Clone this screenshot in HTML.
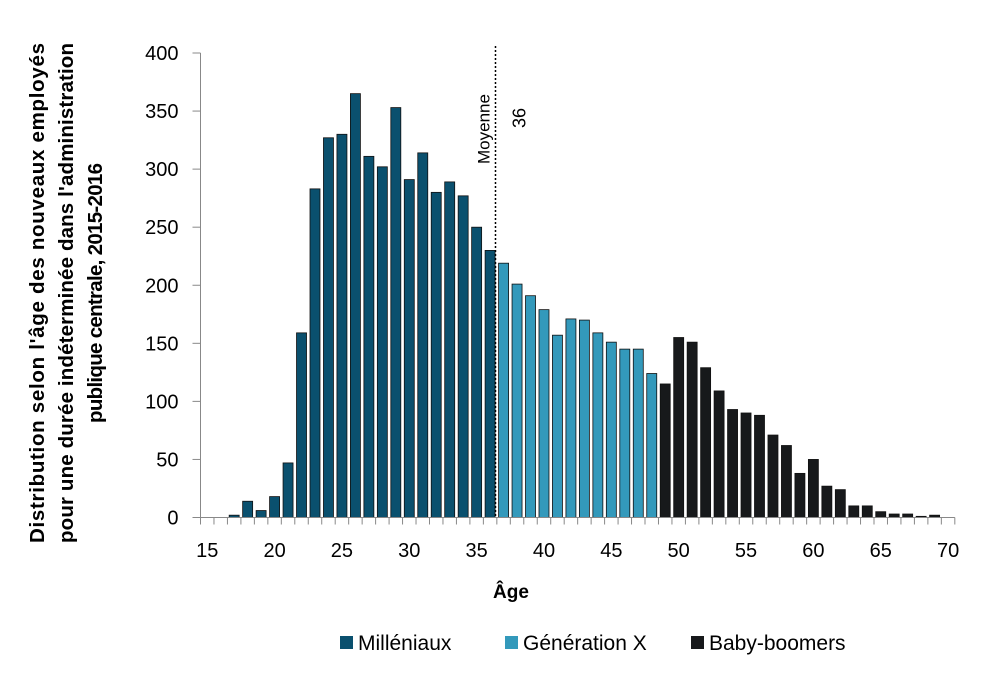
<!DOCTYPE html>
<html><head><meta charset="utf-8"><style>
body{margin:0;background:#fff;}
svg{font-family:"Liberation Sans",sans-serif;}
</style></head><body>
<svg id="chart" width="988" height="677">
<g id="bars"></g><g id="axes"></g>
</svg>
<script>
const ages=[15,16,17,18,19,20,21,22,23,24,25,26,27,28,29,30,31,32,33,34,35,36,37,38,39,40,41,42,43,44,45,46,47,48,49,50,51,52,53,54,55,56,57,58,59,60,61,62,63,64,65,66,67,68,69,70];
const counts=[0,0,2,14,6,18,47,159,283,327,330,365,311,302,353,291,314,280,289,277,250,230,219,201,191,179,157,171,170,159,151,145,145,124,115,155,151,129,109,93,90,88,71,62,38,50,27,24,10,10,5,3,3,1,2,0];
const genXStart=37, boomerStart=49;
const yTicks=[0,50,100,150,200,250,300,350,400];
const xLabels=[15,20,25,30,35,40,45,50,55,60,65,70];
const meanAge=36.4;
const ns="http://www.w3.org/2000/svg";
const svg=document.getElementById('chart');
const x0=200.5,step=13.47,yBase=517.5,yTop=53;
const X=a=>x0+(a-15)*step+step/2;
const Y=v=>yBase-(v/400)*(yBase-yTop);
function mk(t,attrs,parent){const e=document.createElementNS(ns,t);for(const k in attrs)e.setAttribute(k,attrs[k]);(parent||svg).appendChild(e);return e;}
const bars=document.getElementById('bars'),axes=document.getElementById('axes');
ages.forEach((a,i)=>{const v=counts[i];if(v<=0)return;
 const col=a>=boomerStart?'#17191b':a>=genXStart?'#3399bb':'#0a506e';
 const r=mk('rect',{x:X(a)-5,y:Y(v),width:10,height:yBase-Y(v),fill:col,stroke:'#111','stroke-width':0.8},bars);
 
 });
let l=mk('line',{x1:x0,y1:yTop,x2:x0,y2:yBase,stroke:'#888'},axes);

l=mk('line',{x1:x0,y1:yBase,x2:x0+56*step,y2:yBase,stroke:'#888'},axes);

yTicks.forEach(v=>{mk('line',{x1:x0-8,x2:x0,y1:Y(v),y2:Y(v),stroke:'#888'},axes);
 const t=mk('text',{x:x0-22,y:Y(v)+7,'text-anchor':'end','font-size':20,fill:'#000'},axes);t.textContent=v;
 });
for(let i=0;i<=56;i++)mk('line',{x1:x0+i*step,x2:x0+i*step,y1:yBase,y2:yBase+7,stroke:'#888'},axes);
xLabels.forEach(a=>{const t=mk('text',{x:X(a),y:557,'text-anchor':'middle','font-size':20},axes);t.textContent=a;
 });
const mx=X(meanAge);
l=mk('line',{x1:mx,x2:mx,y1:46,y2:yBase,stroke:'#000','stroke-width':1.5,'stroke-dasharray':'2,2'});

let t=mk('text',{transform:`translate(${mx-6},164) rotate(-90)`,'font-size':17});t.textContent='Moyenne';

t=mk('text',{transform:`translate(${mx+30},128) rotate(-90)`,'font-size':18});t.textContent='36';

t=mk('text',{x:511,y:598,'text-anchor':'middle','font-size':19,'font-weight':'bold'});t.textContent='Âge';

const lines=["Distribution selon l'âge des nouveaux employés","pour une durée indéterminée dans l'administration","publique centrale, 2015-2016"];
lines.forEach((s,i)=>{const e=mk('text',{transform:`translate(${44+i*29},293) rotate(-90)`,'text-anchor':'middle','font-size':20.5,'font-weight':'bold','textLength':i<2?500:260});e.textContent=s;
 });
const legend=[['Milléniaux','#0a506e',340],['Génération X','#3399bb',505],['Baby-boomers','#17191b',691]];
legend.forEach(([n,c,x])=>{const g=mk('g',{});
 mk('rect',{x:x,y:636,width:13,height:13,fill:c},g);
 const e=mk('text',{x:x+18,y:650,'font-size':21},g);e.textContent=n;});
</script>
</body></html>
